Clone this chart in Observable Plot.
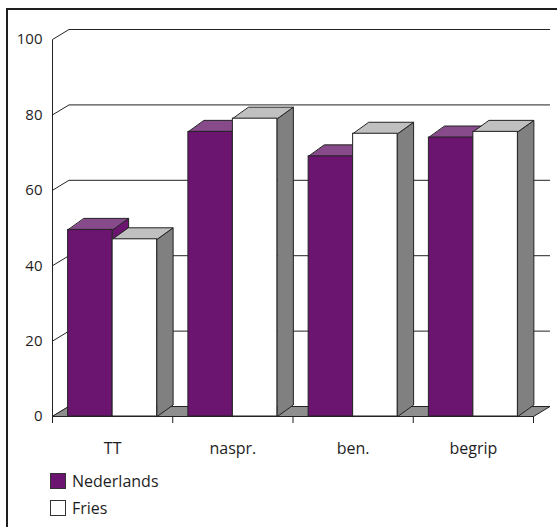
<!DOCTYPE html>
<html>
<head>
<meta charset="utf-8">
<script src="https://cdn.jsdelivr.net/npm/d3@7"></script>
<script src="https://cdn.jsdelivr.net/npm/@observablehq/plot@0.6"></script>
<style>
  html, body { margin: 0; padding: 0; background: #fff; }
  body { position: relative; width: 557px; height: 527px; overflow: hidden; font-family: "Open Sans", sans-serif; color: #1e1e1e; }
  #frame { position: absolute; left: 6px; top: 8px; right: -4px; bottom: -4px; border-top: 2px solid #1e1e1e; border-left: 2px solid #1e1e1e; pointer-events: none; }
  #chart { position: absolute; left: 0; top: 0; }
  #legend { position: absolute; left: 50px; top: 471px; font-size: 16px; }
  .row { display: flex; align-items: center; height: 19px; margin-bottom: 8px; }
  .sw { width: 14px; height: 14px; border: 1px solid #333; margin-right: 6px; }
</style>
</head>
<body>
<div id="frame"></div>
<div id="chart"></div>
<div id="legend"></div>
<script>
// Scores per component, Dutch vs Frisian
const categories = ["TT", "naspr.", "ben.", "begrip"];
const nederlands = [49.5, 75.5, 69, 74];
const fries = [47, 79, 75, 75.5];
const seriesNames = ["Nederlands", "Fries"];
const yTicks = [0, 20, 40, 60, 80, 100];

// face colours per series: front, top, side
const faces = {
  Nederlands: {front: "#6b1570", top: "#874a8b", side: "#6b1570"},
  Fries: {front: "#ffffff", top: "#c0c0c0", side: "#808080"}
};

// depth of the walls and of the bars, in data units (x: categories, y: score)
const WX = 0.137, WY = 2.65;
const BX = 0.133, BY = 3.05;
const barW = 0.37, barPad = 0.13;

const values = {Nederlands: nederlands, Fries: fries};
const bars = [];
seriesNames.forEach((s, k) => {
  values[s].forEach((v, i) => {
    const x1 = i + barPad + k * barW;
    bars.push({series: s, cat: categories[i], id: s + i, x1, x2: x1 + barW, v});
  });
});

// polygon vertex lists for the top and right-side faces
const topPts = s => bars.filter(b => b.series === s).flatMap(b => [
  {id: b.id, x: b.x1, y: b.v},
  {id: b.id, x: b.x2, y: b.v},
  {id: b.id, x: b.x2 + BX, y: b.v + BY},
  {id: b.id, x: b.x1 + BX, y: b.v + BY}
]);
const sidePts = s => bars.filter(b => b.series === s).flatMap(b => [
  {id: b.id, x: b.x2, y: 0},
  {id: b.id, x: b.x2 + BX, y: BY},
  {id: b.id, x: b.x2 + BX, y: b.v + BY},
  {id: b.id, x: b.x2, y: b.v}
]);

const n = categories.length;
const floor = [
  {x: 0, y: 0}, {x: n, y: 0}, {x: n + WX, y: WY}, {x: WX, y: WY}
];

const barMarks = seriesNames.flatMap(s => [
  Plot.line(sidePts(s), {x: "x", y: "y", z: "id", curve: "linear-closed", fill: faces[s].side, stroke: "#222", strokeWidth: 1}),
  Plot.line(topPts(s), {x: "x", y: "y", z: "id", curve: "linear-closed", fill: faces[s].top, stroke: "#222", strokeWidth: 1}),
  Plot.rect(bars.filter(b => b.series === s), {x1: "x1", x2: "x2", y1: 0, y2: "v", fill: faces[s].front, stroke: "#222", strokeWidth: 1})
]);

const chart = Plot.plot({
  width: 557,
  height: 465,
  marginLeft: 52,
  marginRight: 24,
  marginTop: 39,
  marginBottom: 49,
  style: {fontFamily: "Open Sans, sans-serif", fontSize: "15px", color: "#1e1e1e", background: "transparent"},
  x: {domain: [0, n], ticks: d3.range(n + 1), tickFormat: () => "", tickSize: 7, label: null},
  y: {domain: [0, 100], ticks: yTicks, tickSize: 0, tickPadding: 10, label: null},
  marks: [
    // back wall gridlines
    Plot.link(yTicks, {x1: WX, x2: n + WX, y1: d => d + WY, y2: d => d + WY, stroke: "#222", strokeWidth: 1}),
    // left wall gridlines
    Plot.link(yTicks, {x1: 0, x2: WX, y1: d => d, y2: d => d + WY, stroke: "#222", strokeWidth: 1}),
    // value axis line
    Plot.link([0], {x1: 0, x2: 0, y1: 0, y2: 100, stroke: "#222", strokeWidth: 1}),
    // floor
    Plot.line(floor, {x: "x", y: "y", curve: "linear-closed", fill: "#8e8e8e", stroke: "#222", strokeWidth: 1}),
    ...barMarks,
    // category labels
    Plot.text(categories, {x: (d, i) => i + 0.5, y: 0, text: d => d, dy: 32, lineAnchor: "middle", fontSize: 16, fill: "#1e1e1e"})
  ]
});
document.getElementById("chart").appendChild(chart);

const legend = document.getElementById("legend");
seriesNames.forEach(s => {
  const row = document.createElement("div");
  row.className = "row";
  const sw = document.createElement("div");
  sw.className = "sw";
  sw.style.background = faces[s].front;
  const label = document.createElement("span");
  label.textContent = s;
  row.appendChild(sw);
  row.appendChild(label);
  legend.appendChild(row);
});
</script>
</body>
</html>
